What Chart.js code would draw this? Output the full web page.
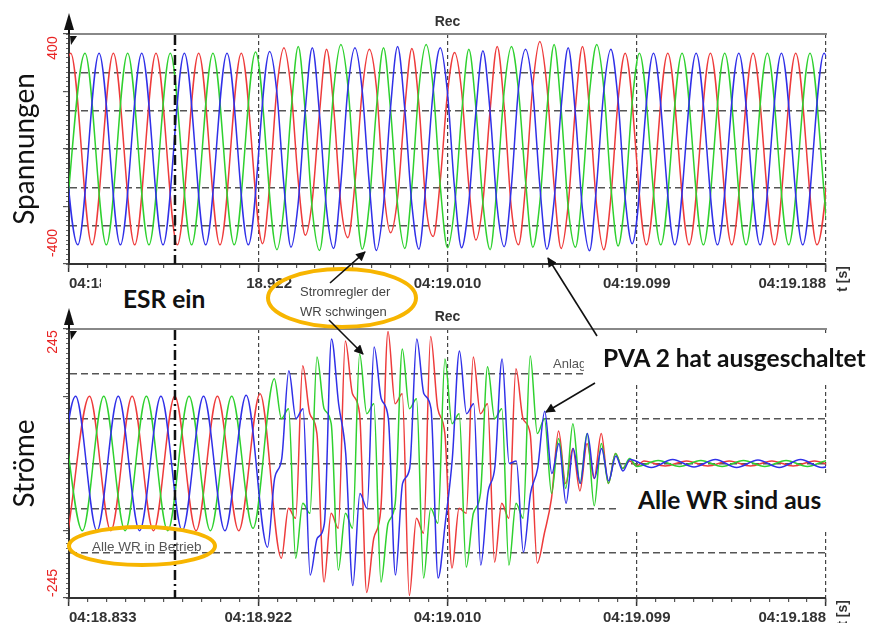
<!DOCTYPE html>
<html>
<head>
<meta charset="utf-8">
<script src="https://cdn.jsdelivr.net/npm/chart.js@4.4.1/dist/chart.umd.min.js"></script>
<style>
  html, body { margin: 0; padding: 0; background: #fff; }
  #page { position: relative; width: 871px; height: 623px; overflow: hidden; font-family: "Liberation Sans", Arial, sans-serif; }
  #page canvas { position: absolute; left: 0; }
  #voltCanvas { top: 0; }
  #currCanvas { top: 300px; }
  #marks { position: absolute; left: 0; top: 0; }
  .note { position: absolute; white-space: nowrap; }
  .box { position: absolute; background: #fff; }
  .big { font-family: Lato, "Open Sans", sans-serif; font-weight: bold; font-size: 24.5px; color: #111; }
  .small { font-size: 13px; color: #444; line-height: 20px; }
</style>
</head>
<body>
<div id="page">
  <canvas id="voltCanvas" width="871" height="300"></canvas>
  <canvas id="currCanvas" width="871" height="323"></canvas>

  <div class="note small" style="left:553px; top:354px; color:#555;">Anlage 2</div>
  <div class="box" style="left:101px; top:272px; width:145px; height:48px;"></div>
  <div class="box" style="left:584px; top:334px; width:287px; height:48px;"></div>
  <div class="box" style="left:620px; top:474px; width:251px; height:56px;"></div>
  <div class="note big" style="left:123px; top:284px;">ESR ein</div>
  <div class="note big" style="left:603px; top:343px;">PVA 2 hat ausgeschaltet</div>
  <div class="note big" style="left:638px; top:485px;">Alle WR sind aus</div>
  <div class="note small" style="left:300px; top:282px;">Stromregler der<br>WR schwingen</div>
  <div class="note small" style="left:92px; top:537px; font-size:13.5px; color:#555;">Alle WR in Betrieb</div>

  <svg id="marks" width="871" height="623">
    <defs>
      <marker id="head" viewBox="0 0 10 10" refX="9" refY="5" markerWidth="7" markerHeight="6" orient="auto">
        <path d="M0,0 L10,5 L0,10 z" fill="#111"></path>
      </marker>
    </defs>
    <ellipse cx="342" cy="298" rx="74" ry="29" fill="none" stroke="#f7b500" stroke-width="4"></ellipse>
    <ellipse cx="142" cy="546" rx="73" ry="19" fill="none" stroke="#f7b500" stroke-width="4"></ellipse>
    <g stroke="#111" stroke-width="1.6" marker-end="url(#head)">
      <line x1="330" y1="283" x2="365" y2="252"></line>
      <line x1="329" y1="320" x2="363" y2="354"></line>
      <line x1="597" y1="336" x2="548" y2="258"></line>
      <line x1="595" y1="383" x2="546" y2="412"></line>
    </g>
  </svg>
</div>

<script>
// time axis in ms after 04:18.833
const tickTimes = [0, 88.75, 177.5, 266.25, 355];
const tickLabels = ['04:18.833', '04:18.922', '04:19.010', '04:19.099', '04:19.188'];
const esrTime = 49.7;
const halfPeriod = 10; // ms between two extrema of one phase (50 Hz)

// voltage extrema per phase, alternating
const voltStart = { red: -9.2, green: -2.5, blue: -5.9 };
const voltRed = [-400, 400, -400, 400, -400, 400, -400, 400, -400, 400,
  -395, 423, -360, 416, -370, 416, -350, 420, -365, 403, -380, 428, -400, 449, -415, 428, -420,
  400, -400, 400, -400, 400, -400, 400, -400, 400, -400, 400];
const voltGreen = [-400, 400, -400, 400, -400, 400, -400, 400, -400, 405,
  -420, 428, -424, 436, -418, 423, -415, 436, -412, 416, -420, 428, -410, 436, -410, 436, -405,
  400, -400, 400, -400, 400, -400, 400, -400, 400, -400, 400];
const voltBlue = [400, -400, 400, -400, 400, -400, 400, -400, 400, -400,
  407, -410, 423, -415, 423, -424, 428, -418, 423, -412, 410, -408, 416, -418, 423, -425, 416,
  -395, 400, -400, 400, -400, 400, -400, 400, -400, 400, -400];
const voltLimits = ['400', '-400'];

// current extrema per phase, alternating
const currStart = { red: -0.4, green: -3.7, blue: -6.9 };
const currRed = [-135, 135, -135, 135, -135, 135, -135, 135, -135, 140,
  -190, 196, -238, 246, -259, 265, -265, 255, -210, 214, -198, 190, -200, 65, -55, 60, -10,
  5, -5, 5, -5, 5, -5, 5, -5, 5, -5, 5];
const currGreen = [135, -135, 135, -135, 135, -135, 135, -135, 135, -130,
  170, -190, 214, -214, 220, -238, 230, -230, 210, -208, 194, -204, 216, -60, 80, -85, 20,
  -6, 6, -6, 6, -6, 6, -6, 6, -6, 6, -6];
const currBlue = [-135, 135, -135, 135, -135, 135, -135, 135, -135, 137,
  -168, 186, -224, 250, -245, 234, -224, 250, -230, 226, -204, 210, -178, 105, -80, 60, -35,
  8, -8, 8, -7, 8, -8, 7, -8, 8, -8, 8];
const currLimits = ['245', '-245'];

// kinks between two extrema while the controllers oscillate (half cycles 10..26)
const wiggleFrom = 10;
const voltRedWiggle = [[-150, 250], [250, -130], [-210, 150], [170, -230], [-140, 240], [260, -160],
  [-200, 170], [180, -240], [-130, 230], [240, -150], [-220, 160], [170, -250], [-150, 260],
  [260, -150], [-230, 170], [160, -240], [-200, 200]];
const voltGreenWiggle = [[-240, 160], [150, -260], [-160, 250], [260, -150], [-230, 170], [160, -240],
  [-150, 260], [250, -160], [-240, 150], [170, -230], [-140, 250], [240, -140], [-220, 170],
  [160, -250], [-160, 240], [250, -160], [-200, 200]];
const voltBlueWiggle = [[240, -150], [-230, 160], [150, -250], [-150, 250], [250, -140], [-240, 170],
  [170, -230], [-140, 240], [240, -160], [-230, 150], [160, -240], [-160, 250], [250, -150],
  [-220, 170], [150, -250], [-150, 240], [210, -200]];
const currRedWiggle = [[-90, -110], [100, 60], [-100, -130], [140, 100], [-150, -90], [120, 140],
  [-110, -140], [110, 60], [-90, -100], [100, 120], [-80, -110], [90, 60], [-140, -70],
  [-40, 30], [40, -30], [-40, 20], [5, -5]];
const currGreenWiggle = [[90, 110], [-80, -100], [110, 80], [-100, -130], [100, 120], [-120, -80],
  [110, 130], [-90, -120], [80, 100], [-100, -60], [90, 110], [-80, -110], [60, 90],
  [50, -50], [-40, 60], [40, -40], [-10, 10]];
const currBlueWiggle = [[-30, 10], [90, 110], [-150, -120], [120, 20], [-60, -90], [130, 90],
  [-40, -10], [140, 110], [-120, 10], [100, 120], [-60, -5], [0, 5], [-60, -10],
  [-20, 40], [30, -40], [-30, 30], [15, -15]];

Chart.defaults.font.family = '"Liberation Sans", Arial, sans-serif';

function phaseLine(values, wiggle, start, color) {
  const points = [];
  values.forEach((v, i) => {
    const t = start + i * halfPeriod;
    points.push({ x: t, y: v });
    const pair = wiggle[i - wiggleFrom];
    if (pair) {
      points.push({ x: t + halfPeriod / 3, y: pair[0] }, { x: t + 2 * halfPeriod / 3, y: pair[1] });
    }
  });
  return {
    data: points,
    borderColor: color,
    borderWidth: 1.5,
    pointRadius: 0,
    cubicInterpolationMode: 'monotone',
    fill: false
  };
}

function fixedTicks(values) {
  return scale => { scale.ticks = values.map(v => ({ value: v })); };
}

function stepTicks(min, max, step) {
  return scale => {
    const list = [];
    for (let v = min; v <= max + 1e-6; v += step) list.push({ value: v });
    scale.ticks = list;
  };
}

// ESR line, arrow icon, red range labels and the "t [s]" unit
const panelDecor = {
  id: 'panelDecor',
  afterDatasetsDraw(chart) {
    const { ctx, chartArea: a, scales } = chart;
    const xe = scales.x.getPixelForValue(esrTime);
    ctx.save();
    ctx.strokeStyle = '#111';
    ctx.lineWidth = 2.5;
    ctx.setLineDash([10, 4, 2, 4]);
    ctx.beginPath();
    ctx.moveTo(xe, a.top + 1);
    ctx.lineTo(xe, a.bottom);
    ctx.stroke();
    ctx.restore();
  },
  afterDraw(chart, args, opts) {
    const { ctx, chartArea: a } = chart;
    ctx.save();
    // axis arrow
    ctx.fillStyle = '#111';
    ctx.beginPath();
    ctx.moveTo(a.left, a.top - 21);
    ctx.lineTo(a.left - 5, a.top - 4);
    ctx.lineTo(a.left + 5, a.top - 4);
    ctx.closePath();
    ctx.fill();
    ctx.fillRect(a.left - 1, a.top - 6, 2, 6);
    ctx.beginPath();
    ctx.moveTo(a.left + 1, a.top + 2);
    ctx.lineTo(a.left + 8, a.top + 2);
    ctx.lineTo(a.left + 2, a.top + 11);
    ctx.closePath();
    ctx.fill();
    // red range labels
    ctx.fillStyle = '#e82323';
    ctx.font = '14px "Liberation Sans", Arial, sans-serif';
    ctx.textAlign = 'center';
    ctx.textBaseline = 'middle';
    [[opts.labels[0], a.top + opts.topOffset], [opts.labels[1], a.bottom - opts.bottomOffset]].forEach(([t, y]) => {
      ctx.save();
      ctx.translate(a.left - 16, y);
      ctx.rotate(-Math.PI / 2);
      ctx.fillText(t, 0, 0);
      ctx.restore();
    });
    // time unit
    ctx.fillStyle = '#333';
    ctx.font = 'bold 14px "Liberation Sans", Arial, sans-serif';
    ctx.translate(a.right + 17, a.bottom + 15);
    ctx.rotate(-Math.PI / 2);
    ctx.fillText('t [s]', 0, 0);
    ctx.restore();
  }
};

function panelOptions(cfg) {
  return {
    responsive: false,
    animation: false,
    events: [],
    layout: { padding: { left: 0, right: 45, top: 0, bottom: 0 } },
    plugins: {
      legend: { display: false },
      tooltip: { enabled: false },
      panelDecor: { labels: cfg.limits, topOffset: cfg.topOffset, bottomOffset: cfg.bottomOffset }
    },
    scales: {
      x: {
        type: 'linear', position: 'bottom', min: 0, max: 355, weight: 1,
        afterBuildTicks: fixedTicks(tickTimes),
        afterFit: s => { s.height = cfg.bottomSpace; },
        grid: { color: '#444', lineWidth: 1.2, tickLength: 8, tickColor: '#333', tickWidth: 1.5, tickBorderDash: [] },
        border: { display: true, color: '#333', width: 2, dash: [4, 3] },
        ticks: {
          align: 'inner', maxRotation: 0, autoSkip: false, padding: 3, color: '#333',
          font: { size: 15, weight: 'bold' },
          callback: (v, i) => tickLabels[i]
        }
      },
      xMinor: {
        type: 'linear', position: 'bottom', min: 0, max: 355, weight: 0,
        afterBuildTicks: stepTicks(0, 355, 8.875),
        afterFit: s => { s.height = 0; },
        grid: { drawOnChartArea: false, tickLength: 4, color: '#555', lineWidth: 1.2 },
        border: { display: false },
        ticks: { display: false }
      },
      xTop: {
        type: 'linear', position: 'top', min: 0, max: 355,
        afterFit: s => { s.height = cfg.topSpace; },
        grid: { display: false },
        border: { display: true, color: '#888', width: 2 },
        ticks: { display: false },
        title: { display: true, text: 'Rec', color: '#333', font: { size: 14, weight: 'bold' }, padding: { top: cfg.recPad, bottom: 0 } }
      },
      y: {
        type: 'linear', position: 'left', min: -cfg.range, max: cfg.range, weight: 2,
        afterBuildTicks: fixedTicks(cfg.grid),
        afterFit: s => { s.width = 69; },
        grid: { color: '#555', lineWidth: 1.4, drawTicks: false },
        border: { display: true, color: '#333', width: 2, dash: [7, 4] },
        ticks: { display: false },
        title: { display: true, text: cfg.title, color: '#111', font: { family: 'Lato, "Open Sans", sans-serif', size: 28 }, padding: { top: 8, bottom: 0 } }
      },
      yMid: {
        type: 'linear', position: 'left', min: -cfg.range, max: cfg.range, weight: 1,
        afterBuildTicks: stepTicks(-cfg.range, cfg.range, cfg.midStep),
        afterFit: s => { s.width = 0; },
        grid: { drawOnChartArea: false, tickLength: 6, color: '#555', lineWidth: 1.2 },
        border: { display: false },
        ticks: { display: false }
      },
      yMinor: {
        type: 'linear', position: 'left', min: -cfg.range, max: cfg.range, weight: 0,
        afterBuildTicks: stepTicks(-cfg.range, cfg.range, cfg.minorStep),
        afterFit: s => { s.width = 0; },
        grid: { drawOnChartArea: false, tickLength: 3, color: '#666', lineWidth: 1 },
        border: { display: false },
        ticks: { display: false }
      }
    }
  };
}

const red = '#ee3b3b', green = '#2fd12f', blue = '#3030e8';

new Chart(document.getElementById('voltCanvas'), {
  type: 'line',
  data: {
    datasets: [
      phaseLine(voltBlue, voltBlueWiggle, voltStart.blue, blue),
      phaseLine(voltGreen, voltGreenWiggle, voltStart.green, green),
      phaseLine(voltRed, voltRedWiggle, voltStart.red, red)
    ]
  },
  options: panelOptions({
    title: 'Spannungen', range: 480, grid: [-320, -160, 0, 160, 320],
    midStep: 240, minorStep: 20, limits: voltLimits, topOffset: 14, bottomOffset: 21,
    topSpace: 34, bottomSpace: 36, recPad: 14
  }),
  plugins: [panelDecor]
});

new Chart(document.getElementById('currCanvas'), {
  type: 'line',
  data: {
    datasets: [
      phaseLine(currBlue, currBlueWiggle, currStart.blue, blue),
      phaseLine(currGreen, currGreenWiggle, currStart.green, green),
      phaseLine(currRed, currRedWiggle, currStart.red, red)
    ]
  },
  options: panelOptions({
    title: 'Ströme', range: 270, grid: [-180, -90, 0, 90, 180],
    midStep: 135, minorStep: 10, limits: currLimits, topOffset: 13, bottomOffset: 15,
    topSpace: 29, bottomSpace: 25, recPad: 9
  }),
  plugins: [panelDecor]
});
</script>
</body>
</html>
